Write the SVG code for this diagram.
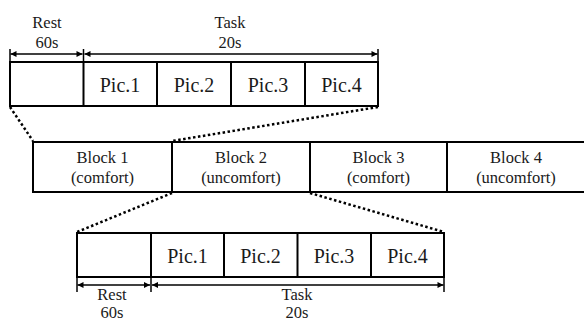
<svg xmlns="http://www.w3.org/2000/svg" width="584" height="321" viewBox="0 0 584 321">
<style>
.box{fill:#fff;stroke:#000;stroke-width:2}
.div{stroke:#000;stroke-width:2}
.t{font-family:"Liberation Serif","Times New Roman",serif;fill:#1a1a1a;text-anchor:middle}
.pic{font-size:20px}
.lbl{font-size:16.5px}
.arr{stroke:#000;stroke-width:1.5;fill:none;marker-start:url(#ah);marker-end:url(#ah)}
.tick{stroke:#000;stroke-width:1.5}
.dot{stroke:#000;stroke-width:2.5;stroke-dasharray:2.5 2.5;fill:none}
</style>
<defs>
<marker id="ah" viewBox="0 0 10 10" refX="10" refY="5" markerWidth="7" markerHeight="6" markerUnits="userSpaceOnUse" orient="auto-start-reverse">
<path d="M0,0 L10,5 L0,10 z" fill="#000"/>
</marker>
</defs>
<g id="top-strip">
<rect class="box" x="10" y="62" width="368" height="44"/>
<line class="div" x1="83.5" y1="62" x2="83.5" y2="106"/>
<line class="div" x1="157" y1="62" x2="157" y2="106"/>
<line class="div" x1="231" y1="62" x2="231" y2="106"/>
<line class="div" x1="305" y1="62" x2="305" y2="106"/>
<text class="t pic" x="120" y="92">Pic.1</text>
<text class="t pic" x="194" y="92">Pic.2</text>
<text class="t pic" x="268" y="92">Pic.3</text>
<text class="t pic" x="341.5" y="92">Pic.4</text>
</g>
<g id="top-timing">
<line class="tick" x1="10" y1="49" x2="10" y2="62"/>
<line class="tick" x1="83.5" y1="49" x2="83.5" y2="62"/>
<line class="tick" x1="378" y1="49" x2="378" y2="62"/>
<line class="arr" x1="10.5" y1="54" x2="82.5" y2="54"/>
<line class="arr" x1="84.5" y1="54" x2="377.5" y2="54"/>
<text class="t lbl" x="47" y="28">Rest</text>
<text class="t lbl" x="47" y="48">60s</text>
<text class="t lbl" x="230" y="28">Task</text>
<text class="t lbl" x="230" y="48">20s</text>
</g>
<g id="blocks">
<g id="block1">
<rect class="box" x="33" y="142" width="139" height="50"/>
<text class="t lbl" x="102.5" y="163">Block 1</text>
<text class="t lbl" x="102.5" y="183">(comfort)</text>
</g>
<g id="block2">
<rect class="box" x="172" y="142" width="138" height="50"/>
<text class="t lbl" x="241" y="163">Block 2</text>
<text class="t lbl" x="241" y="183">(uncomfort)</text>
</g>
<g id="block3">
<rect class="box" x="310" y="142" width="137" height="50"/>
<text class="t lbl" x="378.5" y="163">Block 3</text>
<text class="t lbl" x="378.5" y="183">(comfort)</text>
</g>
<g id="block4">
<rect class="box" x="447" y="142" width="140" height="50"/>
<text class="t lbl" x="516" y="163">Block 4</text>
<text class="t lbl" x="516" y="183">(uncomfort)</text>
</g>
</g>
<g id="bottom-strip">
<rect class="box" x="77" y="233" width="367" height="44"/>
<line class="div" x1="151" y1="233" x2="151" y2="277"/>
<line class="div" x1="224" y1="233" x2="224" y2="277"/>
<line class="div" x1="297.5" y1="233" x2="297.5" y2="277"/>
<line class="div" x1="371" y1="233" x2="371" y2="277"/>
<text class="t pic" x="187.5" y="263">Pic.1</text>
<text class="t pic" x="260.5" y="263">Pic.2</text>
<text class="t pic" x="334" y="263">Pic.3</text>
<text class="t pic" x="407.5" y="263">Pic.4</text>
</g>
<g id="bottom-timing">
<line class="tick" x1="77" y1="277" x2="77" y2="292"/>
<line class="tick" x1="151" y1="277" x2="151" y2="292"/>
<line class="tick" x1="444" y1="277" x2="444" y2="292"/>
<line class="arr" x1="77.5" y1="285" x2="150" y2="285"/>
<line class="arr" x1="152" y1="285" x2="443.5" y2="285"/>
<text class="t lbl" x="112" y="300">Rest</text>
<text class="t lbl" x="112" y="318">60s</text>
<text class="t lbl" x="297" y="300">Task</text>
<text class="t lbl" x="297" y="318">20s</text>
</g>
<g id="connectors">
<line class="dot" x1="10" y1="107" x2="33" y2="141"/>
<line class="dot" x1="378" y1="107" x2="172" y2="141"/>
<line class="dot" x1="172" y1="193" x2="77" y2="232"/>
<line class="dot" x1="310" y1="193" x2="444" y2="232"/>
</g>
</svg>
